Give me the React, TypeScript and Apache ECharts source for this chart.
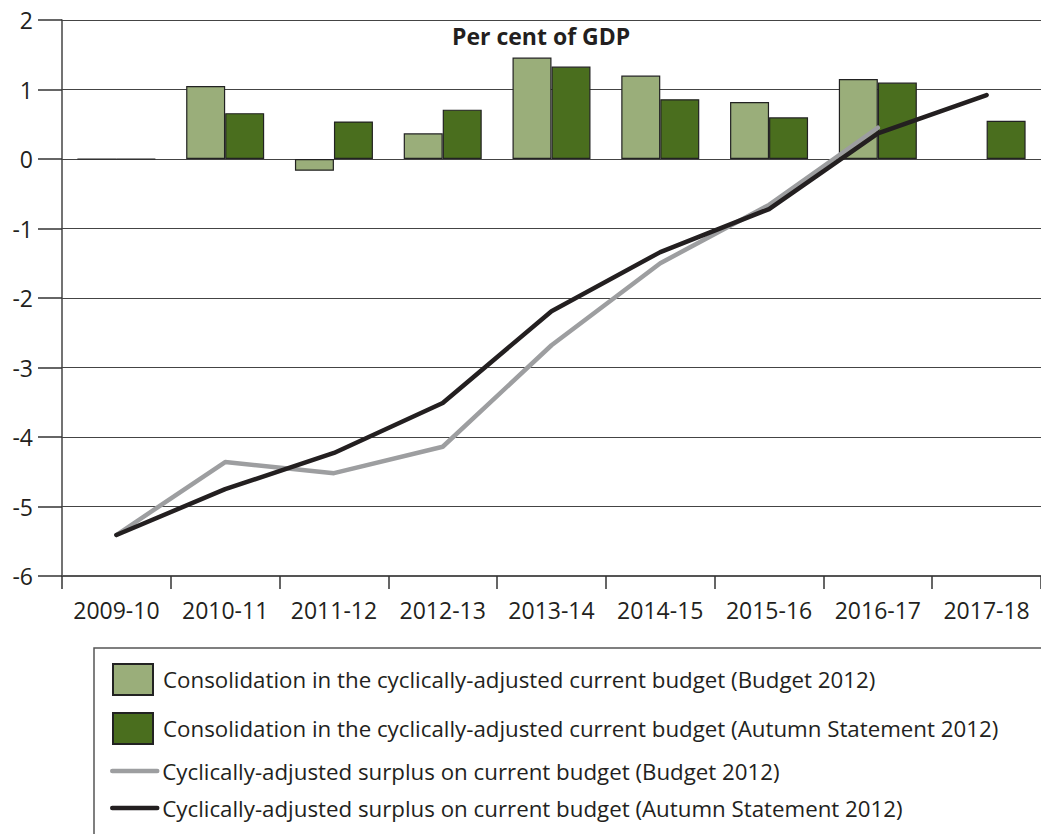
import React, { useEffect, useRef } from "react";
import * as echarts from "echarts";

const categories = ["2009-10", "2010-11", "2011-12", "2012-13", "2013-14", "2014-15", "2015-16", "2016-17", "2017-18"];
const barBudget2012 = [0, 1.05, -0.17, 0.37, 1.46, 1.2, 0.82, 1.15, null];
const barAutumn2012 = [0, 0.66, 0.54, 0.71, 1.33, 0.86, 0.6, 1.1, 0.55];
const lineBudget2012 = [-5.41, -4.36, -4.52, -4.14, -2.68, -1.5, -0.66, 0.45, null];
const lineAutumn2012 = [-5.41, -4.75, -4.23, -3.51, -2.19, -1.34, -0.72, 0.37, 0.92];
const yTicks = { min: -6, max: 2, interval: 1 };

const names = [
  "Consolidation in the cyclically-adjusted current budget (Budget 2012)",
  "Consolidation in the cyclically-adjusted current budget (Autumn Statement 2012)",
  "Cyclically-adjusted surplus on current budget (Budget 2012)",
  "Cyclically-adjusted surplus on current budget (Autumn Statement 2012)",
];

const FONT = "Open Sans";
const TXT = "#231f20";

export default function App() {
  const ref = useRef<HTMLDivElement>(null);
  useEffect(() => {
    if (!ref.current) return;
    const chart = echarts.init(ref.current, undefined, { renderer: "svg" });
    chart.setOption({
      animation: false,
      backgroundColor: "#ffffff",
      textStyle: { fontFamily: FONT, color: TXT },
      grid: { left: 62, top: 20, right: -2, bottom: 258, containLabel: false },
      graphic: [
        {
          type: "rect",
          z: 0,
          shape: { x: 94, y: 648, width: 1000, height: 300 },
          style: { fill: "none", stroke: "#555555", lineWidth: 1.5 },
        },
        {
          type: "text",
          left: 452,
          top: 24,
          style: { text: "Per cent of GDP", fontFamily: FONT, fontSize: 23, fontWeight: "bold", fill: TXT },
        },
      ],
      legend: [
        {
          data: [
            { name: names[0], icon: "rect" },
            { name: names[1], icon: "rect" },
          ],
          orient: "vertical",
          left: 112,
          top: 663,
          padding: 0,
          itemWidth: 40,
          itemHeight: 31,
          itemGap: 16,
          selectedMode: false,
          textStyle: { fontFamily: FONT, fontSize: 22.3, color: TXT, lineHeight: 31, padding: [0, 0, 0, 5] },
        },
        {
          data: [names[2], names[3]],
          orient: "vertical",
          left: 110,
          top: 760,
          padding: 0,
          itemWidth: 45,
          itemHeight: 22,
          itemGap: 15,
          selectedMode: false,
          itemStyle: { opacity: 0 },
          lineStyle: { width: 4.5, cap: "round" },
          textStyle: { fontFamily: FONT, fontSize: 22.3, color: TXT, lineHeight: 22, padding: [0, 0, 0, 0] },
        },
      ],
      xAxis: {
        type: "category",
        data: categories,
        boundaryGap: true,
        axisLine: { onZero: false, lineStyle: { color: "#555555", width: 2 } },
        axisTick: { show: true, interval: 0, length: 13, lineStyle: { color: "#333333", width: 1.5 } },
        axisLabel: { interval: 0, fontFamily: FONT, fontSize: 23, color: TXT, margin: 22 },
        splitLine: { show: false },
      },
      yAxis: {
        type: "value",
        min: yTicks.min,
        max: yTicks.max,
        interval: yTicks.interval,
        axisLine: { show: true, lineStyle: { color: "#444444", width: 1.5 } },
        axisTick: { show: true, length: 24, lineStyle: { color: "#333333", width: 1.5 } },
        axisLabel: { fontFamily: FONT, fontSize: 23, color: TXT, margin: 29 },
        splitLine: { show: true, lineStyle: { color: "#444444", width: 1.2 } },
      },
      series: [
        {
          name: names[0],
          type: "bar",
          data: barBudget2012,
          barWidth: 39,
          barGap: "0%",
          itemStyle: { color: "#9aae7a", borderColor: "#222222", borderWidth: 1.2 },
          z: 2,
        },
        {
          name: names[1],
          type: "bar",
          data: barAutumn2012,
          barWidth: 39,
          barGap: "0%",
          itemStyle: { color: "#4a6e1e", borderColor: "#222222", borderWidth: 1.2 },
          z: 2,
        },
        {
          name: names[2],
          type: "line",
          data: lineBudget2012,
          symbol: "none",
          z: 3,
          lineStyle: { color: "#9d9ea0", width: 4.5, cap: "round", join: "round" },
          itemStyle: { color: "#9d9ea0" },
        },
        {
          name: names[3],
          type: "line",
          data: lineAutumn2012,
          symbol: "none",
          z: 4,
          lineStyle: { color: "#231f20", width: 4.5, cap: "round", join: "round" },
          itemStyle: { color: "#231f20" },
        },
      ],
    });
    return () => chart.dispose();
  }, []);
  return <div ref={ref} style={{ position: "fixed", left: 0, top: 0, width: 1041, height: 834 }} />;
}
